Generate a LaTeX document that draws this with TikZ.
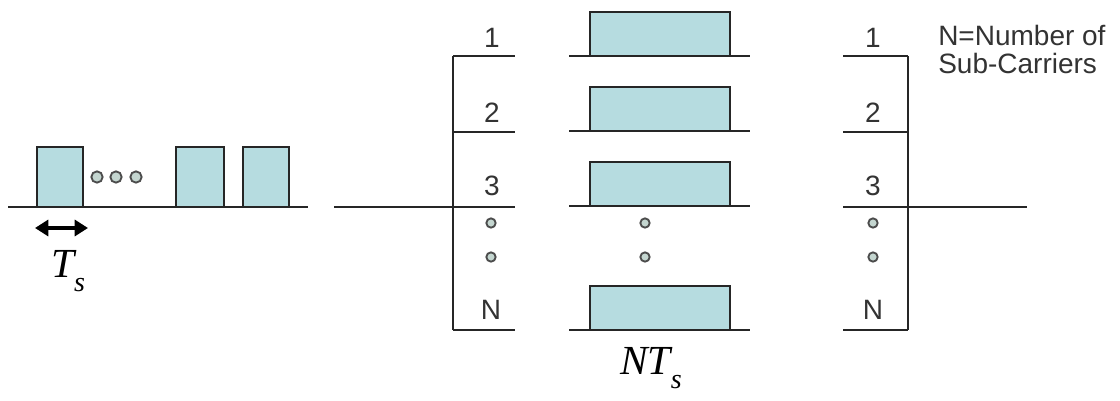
\documentclass[tikz,border=0pt]{standalone}
\usepackage{fontspec}
\setmainfont{Liberation Sans}
\newfontfamily\timesfont{Liberation Serif}
\usetikzlibrary{arrows.meta}
\definecolor{pulsefill}{RGB}{182,220,224}
\definecolor{dotfill}{RGB}{196,214,208}
\tikzset{
  wire/.style={line width=1.4pt,black!85},
  pulse/.style={wire,fill=pulsefill},
  dotmark/.style={circle,draw=black!70,fill=dotfill,line width=1.4pt,inner sep=0pt,minimum size=7pt},
  lbl/.style={font=\fontsize{21}{21}\selectfont,text=black!80,inner sep=0pt},
  sym/.style={font=\timesfont\itshape\fontsize{31}{31}\selectfont,inner sep=0pt},
  dblarrow/.style={{Triangle[length=10pt,width=12pt]}-{Triangle[length=10pt,width=12pt]},line width=2.4pt},
}
\newcommand\symsub[2]{#1\raisebox{-10pt}{\fontsize{21}{21}\selectfont #2}}

\begin{document}
\begin{tikzpicture}[x=0.75pt,y=-0.75pt]
  \useasboundingbox (0,0) rectangle (1120,400);
  % serial stream
  \draw[wire] (8,207) -- (308,207);
  \foreach \a/\b in {37/83,176/224,243/289}
    \draw[pulse] (\a,207) rectangle (\b,147);
  \foreach \x [count=\i] in {97,116,136}
    \node[dotmark,minimum size=8.5pt] (sd\i) at (\x,177) {};
  \coordinate (tl) at (35,228); \coordinate (tr) at (88,228);
  \draw[dblarrow] (tl) -- (tr);
  \node[sym] (ts) at (68,271) {\symsub{T}{s}};
  % splitter
  \draw[wire] (334,207) -- (453,207);
  \draw[wire] (453,56) -- (453,330);
  \foreach \y in {56,132,207,330}
    \draw[wire] (453,\y) -- (515,\y);
  \node[lbl] (sl1) at (492,38) {1};
  \node[lbl] (sl2) at (492,113) {2};
  \node[lbl] (sl3) at (492,186) {3};
  \node[dotmark] (sd4) at (491,223) {};
  \node[dotmark] (sd5) at (491,257) {};
  \node[lbl] (slN) at (491,310) {N};
  % parallel sub-carriers
  \foreach \y in {56,131,206,330} {
    \draw[wire] (569,\y) -- (750,\y);
    \draw[pulse] (590,\y) rectangle (730,\y-44);
  }
  \node[dotmark] (md1) at (645,223) {};
  \node[dotmark] (md2) at (645,257) {};
  \node[sym] (nts) at (651,368) {\symsub{NT}{s}};
  % combiner
  \draw[wire] (908,56) -- (908,330);
  \foreach \y in {56,132,207,330}
    \draw[wire] (843,\y) -- (908,\y);
  \draw[wire] (908,207) -- (1027,207);
  \node[lbl] (rl1) at (873,38) {1};
  \node[lbl] (rl2) at (873,113) {2};
  \node[lbl] (rl3) at (873,186) {3};
  \node[dotmark] (rd1) at (873,223) {};
  \node[dotmark] (rd2) at (873,257) {};
  \node[lbl] (rlN) at (873,310) {N};
  \node[lbl,anchor=north west,align=left] (note) at (938,25) {N=Number of\\Sub-Carriers};
\end{tikzpicture}
\end{document}
